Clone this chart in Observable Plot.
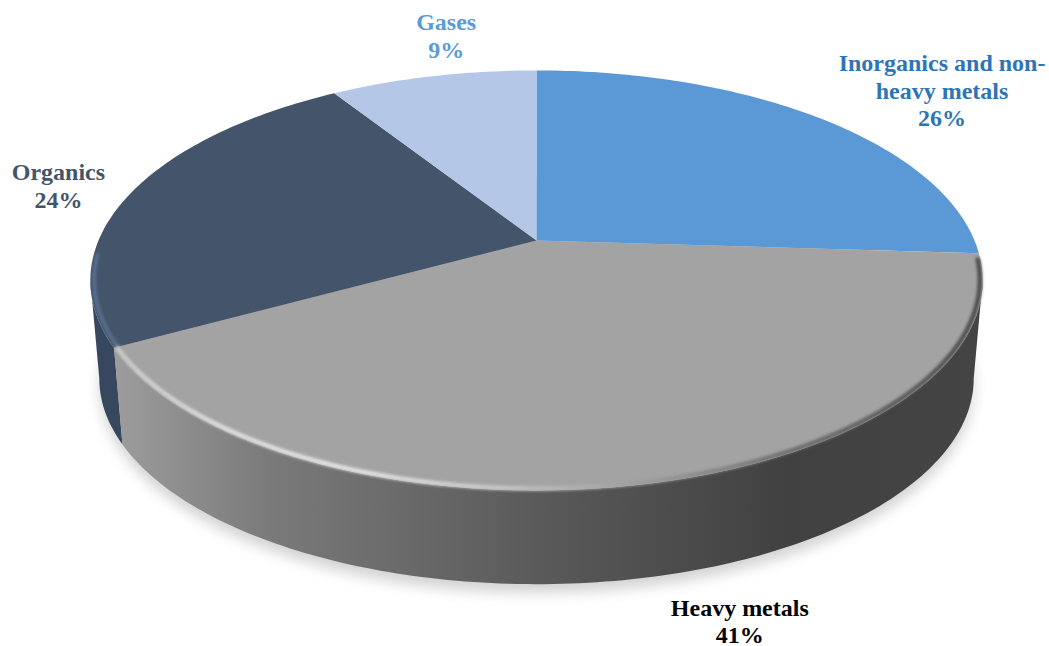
<!DOCTYPE html>
<html>
<head>
<meta charset="utf-8">
<style>html,body{margin:0;padding:0;background:#fff}svg{display:block}</style>
<script src="https://cdn.jsdelivr.net/npm/d3@7"></script>
<script src="https://cdn.jsdelivr.net/npm/@observablehq/plot@0.6"></script>
</head>
<body>
<script>
// Slice data, clockwise from twelve o'clock
const names = ["Inorganics and non-\nheavy metals", "Heavy metals", "Organics", "Gases"];
const shares = [26, 41, 24, 9];
const faceColors = ["#5b98d6", "#a3a3a3", "#44546a", "#b4c7e7"];
const labelColors = ["#2e75b6", "#000000", "#44546a", "#5b9bd5"];
const labelShifts = [[123, -28], [86, 137.5], [-73, -7], [13, -41]];

// Perspective disc: apex of the pie, radii, foreshortening and thickness
const apex = {x: 536, y: 240};
const radiusX = 438, radiusY = 202.4, tilt = -0.19;
const ellipseCenterY = 280, thickness = 98, bottomScale = 0.98;

// Projects a compass angle on a disc of relative radius r; level 1 is the underside
function project(angle, r = 1, level = 0) {
  const ux = Math.sin(angle) * r, uy = -Math.cos(angle) * r;
  const d = 1 + tilt * uy;
  const px = apex.x + radiusX * ux / d, py = apex.y + radiusY * uy / d;
  const k = 1 + (bottomScale - 1) * level;
  return {
    x: apex.x + (px - apex.x) * k,
    y: ellipseCenterY + (py - ellipseCenterY) * k + thickness * level
  };
}

const turn = 2 * Math.PI;
const ends = Array.from(d3.cumsum(shares), (v) => (v / 100) * turn);
const starts = ends.map((_, i) => (i ? ends[i - 1] : 0));
const arc = (a0, a1, r = 1, level = 0) => {
  const n = Math.max(2, Math.ceil(Math.abs(a1 - a0) * 60));
  return d3.range(n + 1).map((i) => project(a0 + ((a1 - a0) * i) / n, r, level));
};

// Angles where the disc's outline turns from the top face to the visible wall
const silhouetteRight = Math.PI - Math.acos(-tilt);
const silhouetteLeft = turn - silhouetteRight;

const faces = names.map((name, i) => ({
  color: faceColors[i],
  points: [{...apex}, ...arc(starts[i], ends[i]), {...apex}]
}));
const heavyWall = [
  ...arc(silhouetteRight, ends[1]),
  ...arc(ends[1], silhouetteRight, 1, 1)
];
const organicsWall = [
  ...arc(ends[1], silhouetteLeft),
  ...arc(silhouetteLeft, ends[1], 1, 1)
];
const shadow = arc(0, turn, 1.0, 1.09);

const labels = names.map((name, i) => {
  const p = project((starts[i] + ends[i]) / 2);
  return Plot.text([`${name}\n${shares[i]}%`], {
    x: () => p.x, y: () => p.y, text: (d) => d,
    dx: labelShifts[i][0], dy: labelShifts[i][1],
    fill: labelColors[i], fontFamily: "Liberation Serif", fontWeight: "bold",
    fontSize: 24, lineHeight: 1.15, textAnchor: "middle"
  });
});

// Horizontal shading for the wall and the bevelled edge
function gradient(id, stops) {
  return () => {
    const defs = d3.create("svg:defs");
    const g = defs.append("linearGradient").attr("id", id)
      .attr("gradientUnits", "userSpaceOnUse")
      .attr("x1", 90).attr("x2", 982).attr("y1", 0).attr("y2", 0);
    for (const [o, c] of stops) g.append("stop").attr("offset", o).attr("stop-color", c);
    return defs.node();
  };
}

const px = {x: "x", y: "y"};
const chart = Plot.plot({
  width: 1049,
  height: 646,
  margin: 0,
  x: {type: "identity", axis: null},
  y: {type: "identity", axis: null},
  marks: [
    gradient("wallShade", [[0, "#a2a2a2"], [0.2, "#7a7a7a"], [0.5, "#5a5a5a"], [0.78, "#414141"], [1, "#444444"]]),
    gradient("edgeShade", [[0, "#c4c4c4"], [0.15, "#dedede"], [0.3, "#e4e4e4"], [0.45, "#c8c8c8"], [0.62, "#9c9c9c"], [0.78, "#6e6e6e"], [1, "#4a4a4a"]]),
    Plot.line(shadow, {...px, fill: "#000", fillOpacity: 0.18, stroke: "none", imageFilter: "blur(7px)"}),
    Plot.line(organicsWall, {...px, fill: "#37475e", stroke: "none"}),
    Plot.line(heavyWall, {...px, fill: "url(#wallShade)", stroke: "none"}),
    ...faces.map((f) => Plot.line(f.points, {...px, fill: f.color, stroke: "none"})),
    // Soft bevel along the front rim of the two nearest slices
    Plot.line(arc(ends[1], silhouetteLeft + 0.12, 0.992), {...px, stroke: "#5f7b9e", strokeWidth: 4, strokeOpacity: 0.7, imageFilter: "blur(1.5px)"}),
    Plot.line(arc(starts[1] + 0.03, ends[1] - 0.005, 0.994), {...px, stroke: "url(#edgeShade)", strokeWidth: 4.5, imageFilter: "blur(1.4px)"}),
    ...labels
  ]
});
document.body.append(chart);
</script>
</body>
</html>
